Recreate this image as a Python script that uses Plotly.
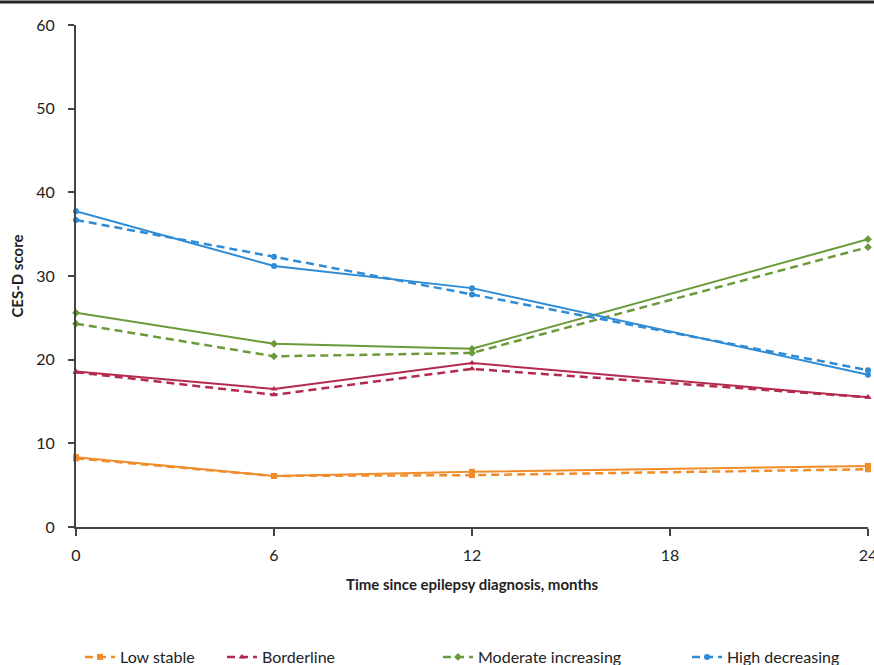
import plotly.graph_objects as go

months = [0, 6, 12, 24]
groups = ["Low stable", "Borderline", "Moderate increasing", "High decreasing"]

low_obs = [8.35, 6.1, 6.6, 7.3]
low_est = [8.2, 6.1, 6.2, 6.9]
border_obs = [18.6, 16.5, 19.6, 15.5]
border_est = [18.5, 15.8, 18.9, 15.5]
moderate_obs = [25.6, 21.9, 21.3, 34.4]
moderate_est = [24.3, 20.4, 20.8, 33.45]
high_obs = [37.75, 31.2, 28.55, 18.2]
high_est = [36.7, 32.3, 27.8, 18.75]

x_ticks = [0, 6, 12, 18, 24]
y_ticks = [0, 10, 20, 30, 40, 50, 60]

colors = ["#f08c2a", "#b4294e", "#6b9a3b", "#2e8bd5"]
symbols = ["square", "triangle-up", "diamond", "circle"]
obs = [low_obs, border_obs, moderate_obs, high_obs]
est = [low_est, border_est, moderate_est, high_est]

FONT = "Lato"
fig = go.Figure()

legend_px = [80, 222, 438, 687]
L, R, T, B = 76, 6, 25, 138
W, H = 874, 665
pw = W - L - R
ph = H - T - B

for i, g in enumerate(groups):
    fig.add_trace(go.Scatter(
        x=months, y=obs[i], mode="lines+markers", showlegend=False,
        line=dict(color=colors[i], width=2),
        marker=dict(symbol=symbols[i], size=6, color=colors[i]),
        cliponaxis=False,
    ))
    lg = "legend" if i == 0 else f"legend{i+1}"
    fig.add_trace(go.Scatter(
        x=months, y=est[i], mode="lines+markers", name=g, legend=lg,
        line=dict(color=colors[i], width=2.5, dash="8px,5px"),
        marker=dict(symbol=symbols[i], size=6, color=colors[i]),
        cliponaxis=False,
    ))

legend_y = (T + ph - 657) / ph
layout_legends = {}
for i in range(4):
    key = "legend" if i == 0 else f"legend{i+1}"
    layout_legends[key] = dict(
        x=(legend_px[i] - L) / pw, xanchor="left",
        y=legend_y, yanchor="middle",
        orientation="h", bgcolor="rgba(0,0,0,0)",
        font=dict(family=FONT, size=16, color="#222"),
        itemwidth=30,
    )

fig.update_layout(
    width=W, height=H,
    margin=dict(l=L, r=R, t=T, b=B, autoexpand=False),
    paper_bgcolor="white", plot_bgcolor="white",
    font=dict(family=FONT, size=15, color="#222"),
    **layout_legends,
)

fig.update_xaxes(
    range=[0, 24], tickvals=x_ticks, ticktext=[str(v) for v in x_ticks],
    automargin=False, ticklabeloverflow="allow",
    showgrid=False, zeroline=False,
    showline=True, linecolor="#444", linewidth=2,
    ticks="outside", ticklen=7, tickwidth=2, tickcolor="#444",
    tickfont=dict(family=FONT, size=16, color="#222"),
    ticklabelstandoff=6,
    title=dict(text="<b>Time since epilepsy diagnosis, months</b>",
               font=dict(family=FONT, size=15, color="#222"), standoff=16),
)
fig.update_yaxes(
    range=[0, 60], tickvals=y_ticks,
    automargin=False, ticklabeloverflow="allow",
    showgrid=False, zeroline=False,
    showline=True, linecolor="#444", linewidth=2,
    ticks="outside", ticklen=6, tickwidth=2, tickcolor="#444",
    tickfont=dict(family=FONT, size=16, color="#222"),
    ticklabelstandoff=10,
    title=dict(text="<b>CES-D score</b>",
               font=dict(family=FONT, size=15, color="#222"), standoff=9),
)

fig.add_shape(type="line", xref="paper", yref="paper",
              x0=-L / pw, x1=1 + R / pw,
              y0=1 + (T - 2) / ph, y1=1 + (T - 2) / ph,
              line=dict(color="#222", width=3))

fig.write_html("out.html", config={"displayModeBar": False},
               post_script="document.body.style.margin='0px';document.body.style.overflow='hidden';")
